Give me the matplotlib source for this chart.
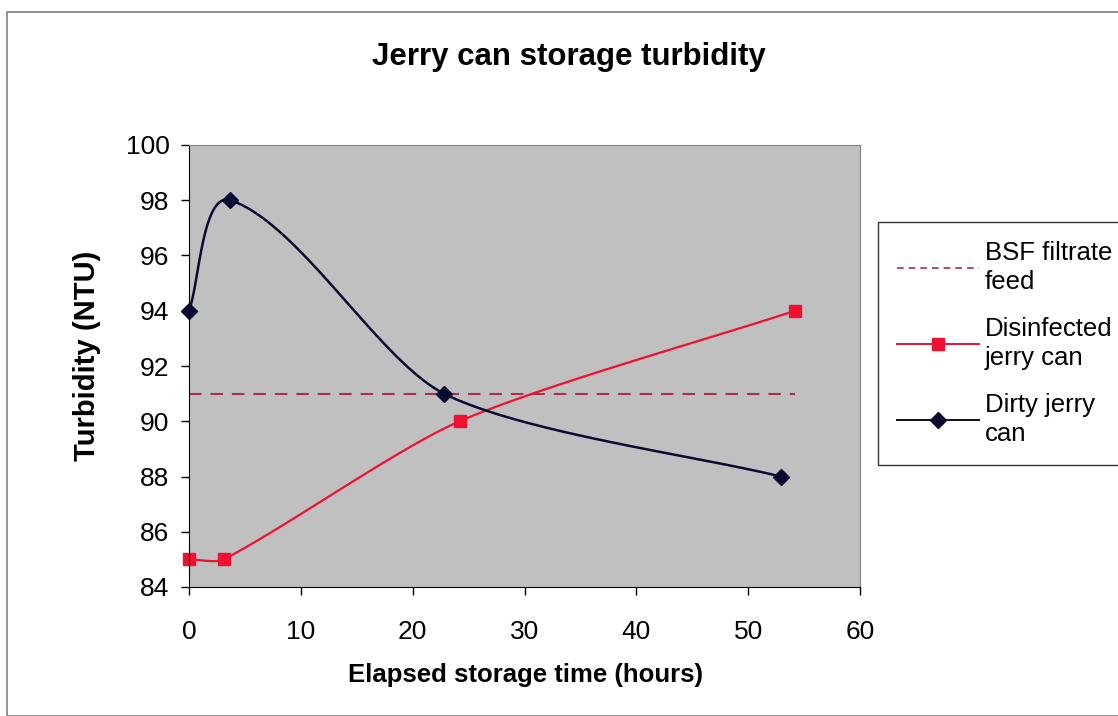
import numpy as np
import matplotlib.pyplot as plt
from matplotlib.patches import Rectangle
from matplotlib.lines import Line2D

plt.rcParams['font.family'] = ['Liberation Sans', 'DejaVu Sans']

# data
bsf_x = [0, 54.2]
bsf_y = [91, 91]
dis_x = [0, 3.1, 24.2, 54.2]
dis_y = [85, 85, 90, 94]
dirty_x = [0, 3.7, 22.8, 52.9]
dirty_y = [94, 98, 91, 88]

x_ticks = np.arange(0, 61, 10)
y_ticks = np.arange(84, 101, 2)

W, H = 1118, 716


def smooth(ax, xs, ys, k=0.25, n=40):
    # Excel-like smoothed line, built in display space
    pts = ax.transData.transform(np.column_stack([xs, ys]))
    m = len(pts)
    tang = []
    for i in range(m):
        a = pts[max(i - 1, 0)]
        b = pts[min(i + 1, m - 1)]
        d = b - a
        tang.append(d / np.hypot(*d))
    out = [pts[0]]
    t = np.linspace(0, 1, n)[1:, None]
    for i in range(m - 1):
        p0, p3 = pts[i], pts[i + 1]
        L = np.hypot(*(p3 - p0))
        p1 = p0 + tang[i] * L * k
        p2 = p3 - tang[i + 1] * L * k
        seg = ((1 - t) ** 3) * p0 + 3 * ((1 - t) ** 2) * t * p1 + 3 * (1 - t) * t ** 2 * p2 + t ** 3 * p3
        out.extend(seg)
    out = ax.transData.inverted().transform(np.array(out))
    return out[:, 0], out[:, 1]


fig = plt.figure(figsize=(W / 100, H / 100), dpi=100)
fig.patches.append(Rectangle((7 / W, 0.0), 1.2, 1 - 12 / H, transform=fig.transFigure,
                             fill=False, edgecolor='#808080', linewidth=1.2))

ax = fig.add_axes([189 / W, 1 - 587 / H, 671 / W, 442 / H])
ax.set_facecolor('#c0c0c0')
ax.set_xlim(0, 60)
ax.set_ylim(84, 100)
ax.set_xticks(x_ticks)
ax.set_yticks(y_ticks)
ax.tick_params(labelsize=19, direction='out', length=6, width=1)
ax.tick_params(axis='x', pad=18)
ax.tick_params(axis='y', pad=8)
for s in ['top', 'right']:
    ax.spines[s].set_color('#808080')
for s in ['left', 'bottom']:
    ax.spines[s].set_color('black')

ax.plot(bsf_x, bsf_y, color='#a8304a', linestyle=(0, (6, 4.3)), linewidth=1.5)

sx, sy = smooth(ax, dis_x, dis_y)
ax.plot(sx, sy, color='#ee1133', linewidth=1.6)
ax.plot(dis_x, dis_y, linestyle='none', marker='s', markersize=9, color='#ee1133', clip_on=False)

sx, sy = smooth(ax, dirty_x, dirty_y)
ax.plot(sx, sy, color='#0a0a30', linewidth=1.8)
ax.plot(dirty_x, dirty_y, linestyle='none', marker='D', markersize=8, color='#0a0a30', clip_on=False)

fig.text(569 / W, 1 - 57 / H, 'Jerry can storage turbidity', fontsize=22.5, fontweight='bold',
         ha='center', va='center')
fig.text(526 / W, 1 - 675 / H, 'Elapsed storage time (hours)', fontsize=18.5, fontweight='bold',
         ha='center', va='center')
fig.text(87 / W, 1 - 356 / H, 'Turbidity (NTU)', fontsize=21, fontweight='bold',
         ha='center', va='center', rotation=90)

handles = [
    Line2D([], [], color='#a8304a', linestyle=(0, (4, 3)), linewidth=1.2),
    Line2D([], [], color='#ee1133', marker='s', markersize=9, linewidth=1.4),
    Line2D([], [], color='#0a0a30', marker='D', markersize=8, linewidth=1.4),
]
labels = ['BSF filtrate\nfeed', 'Disinfected\njerry can', 'Dirty jerry\ncan']
leg = fig.legend(handles, labels, loc='upper left', bbox_to_anchor=(878 / W, 1 - 222 / H),
                 fontsize=18.5, frameon=True, fancybox=False, edgecolor='black',
                 handlelength=3.2, handletextpad=0.2, labelspacing=0.9, borderpad=0.75,
                 borderaxespad=0)
leg.get_frame().set_linewidth(1.0)
for t in leg.get_texts():
    t.set_linespacing(1.25)

fig.savefig('out.png', dpi=100)
